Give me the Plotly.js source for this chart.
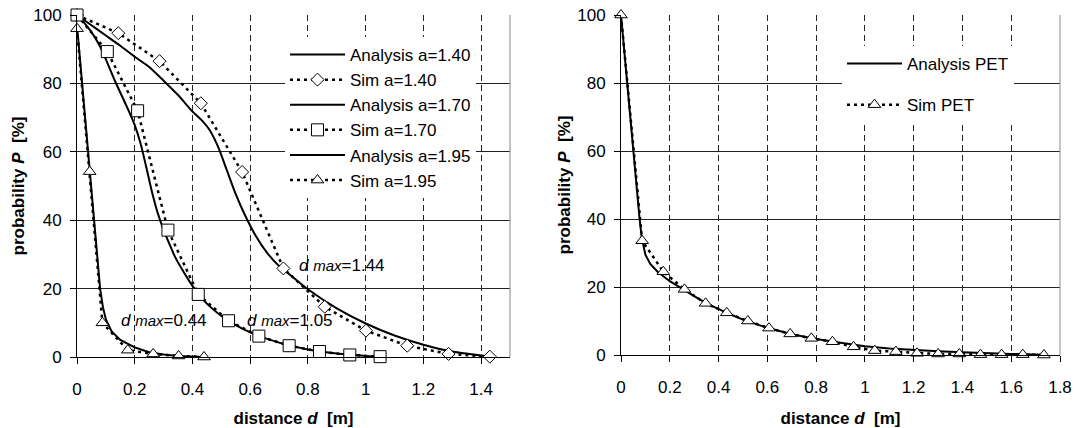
<!DOCTYPE html>
<html>
<head>
<meta charset="utf-8">
<script src="https://cdn.plot.ly/plotly-3.0.1.min.js"></script>
<style>html,body{margin:0;padding:0;background:#fff;}#chart{width:1077px;height:428px;}</style>
</head>
<body>
<div id="chart"></div>
<script>
// ---- Left chart data ----
const anaX140 = [0, 0.05, 0.1, 0.15, 0.2, 0.25, 0.3, 0.35, 0.4, 0.43, 0.46, 0.49, 0.52, 0.55, 0.58, 0.62, 0.66, 0.7, 0.75, 0.8, 0.9, 1.0, 1.1, 1.2, 1.3, 1.44];
const anaY140 = [100, 97, 94, 91, 87.8, 84.8, 80.8, 76.6, 71.8, 69.4, 66.3, 61.2, 54.4, 47.6, 41.8, 35.3, 30.3, 26.6, 23.2, 19.8, 14.2, 9.8, 6.3, 3.6, 1.6, 0];
const simX140 = [0, 0.143, 0.286, 0.429, 0.572, 0.715, 0.858, 1.001, 1.144, 1.287, 1.43];
const simY140 = [100, 94.7, 86.5, 74.2, 54.1, 25.9, 14.7, 7.7, 3.3, 0.9, 0.1];

const anaX170 = [0, 0.02, 0.05, 0.08, 0.1, 0.13, 0.16, 0.18, 0.2, 0.22, 0.24, 0.26, 0.28, 0.3, 0.32, 0.34, 0.37, 0.4, 0.45, 0.5, 0.55, 0.6, 0.7, 0.8, 0.9, 1.0, 1.05];
const anaY170 = [100, 98.2, 95, 90.8, 87, 81, 75.5, 71.8, 67.8, 62.5, 55.5, 48.2, 42, 37.2, 33.1, 29.2, 24.8, 20.8, 15.6, 12, 9.3, 7.2, 4.2, 2.2, 1.0, 0.3, 0];
const simX170 = [0, 0.105, 0.21, 0.315, 0.42, 0.525, 0.63, 0.735, 0.84, 0.945, 1.05];
const simY170 = [100, 89.3, 72.0, 37.1, 18.3, 10.6, 6.1, 3.3, 1.6, 0.6, 0.1];

const anaX195 = [0, 0.02, 0.04, 0.05, 0.06, 0.07, 0.08, 0.09, 0.1, 0.12, 0.15, 0.2, 0.25, 0.3, 0.35, 0.44];
const anaY195 = [97, 78, 60, 50, 40, 30, 20, 14.5, 11, 7.5, 5, 2.8, 1.4, 0.7, 0.3, 0];
const simX195 = [0, 0.044, 0.088, 0.176, 0.264, 0.352, 0.44];
const simY195 = [96, 54.2, 10.0, 2.0, 0.9, 0.3, 0];

// ---- Right chart data ----
const anaXPET = [0, 0.02, 0.04, 0.06, 0.075, 0.085, 0.1, 0.12, 0.15, 0.2, 0.25, 0.3, 0.35, 0.4, 0.45, 0.5, 0.6, 0.7, 0.8, 0.9, 1.0, 1.1, 1.2, 1.3, 1.4, 1.5, 1.6, 1.734];
const anaYPET = [100, 84, 68, 52, 41, 34.5, 29.5, 26.8, 24.5, 21.7, 19.4, 17.3, 15.2, 13.5, 11.9, 10.4, 8.0, 6.1, 4.7, 3.6, 2.6, 1.9, 1.4, 1.1, 0.8, 0.5, 0.3, 0.1];
const simXPET = [0, 0.0867, 0.1734, 0.2601, 0.3468, 0.4335, 0.5202, 0.6069, 0.6936, 0.7803, 0.867, 0.9537, 1.0404, 1.1271, 1.2138, 1.3005, 1.3872, 1.4739, 1.5606, 1.6473, 1.734];
const simYPET = [100, 33.6, 24.5, 19.3, 15.2, 12.4, 10.0, 7.9, 6.2, 4.9, 3.9, 2.4, 1.3, 1.0, 0.5, 0.3, 0.3, 0.1, 0.1, 0.1, 0];

// ---- Ticks and labels ----
const xTicksLeft = [0, 0.2, 0.4, 0.6, 0.8, 1.0, 1.2, 1.4];
const xTickTextLeft = ['0', '0.2', '0.4', '0.6', '0.8', '1', '1.2', '1.4'];
const xTicksRight = [0, 0.2, 0.4, 0.6, 0.8, 1.0, 1.2, 1.4, 1.6, 1.8];
const xTickTextRight = ['0', '0.2', '0.4', '0.6', '0.8', '1', '1.2', '1.4', '1.6', '1.8'];
const yTicks = [0, 20, 40, 60, 80, 100];
const yTickText = ['0', '20', '40', '60', '80', '100'];

const seriesNames = ['Analysis a=1.40', 'Sim a=1.40', 'Analysis a=1.70', 'Sim a=1.70', 'Analysis a=1.95', 'Sim a=1.95'];
const petNames = ['Analysis PET', 'Sim PET'];
const dmaxLabels = ['0.44', '1.05', '1.44'];
const dmaxX = [0.30, 0.737, 0.918];
const dmaxY = [10.8, 10.8, 26.9];

const FONT = 'Liberation Sans, Arial, sans-serif';

function ana(x, y, name, xa, ya, leg, grp, smooth) {
  const line = {color: '#000', width: 2};
  if (smooth) { line.shape = 'spline'; line.smoothing = smooth; }
  return {x: x, y: y, name: name, mode: 'lines', type: 'scatter', xaxis: xa, yaxis: ya,
    line: line, legend: leg, legendgroup: grp, cliponaxis: false, hoverinfo: 'skip'};
}
function sim(x, y, name, sym, size, xa, ya, leg, grp) {
  return {x: x, y: y, name: name, mode: 'lines+markers', type: 'scatter', xaxis: xa, yaxis: ya,
    line: {color: '#000', width: 2.5, dash: '3px,4px'},
    marker: {symbol: sym, size: size, color: '#fff', line: {color: '#000', width: 1}},
    legend: leg, legendgroup: grp, cliponaxis: false, hoverinfo: 'skip'};
}

const traces = [
  ana(anaX140, anaY140, seriesNames[0], 'x', 'y', 'legend', 'g1', 0.6),
  sim(simX140, simY140, seriesNames[1], 'diamond', 10, 'x', 'y', 'legend', 'g2'),
  ana(anaX170, anaY170, seriesNames[2], 'x', 'y', 'legend', 'g3', 0.6),
  sim(simX170, simY170, seriesNames[3], 'square', 12, 'x', 'y', 'legend', 'g4'),
  ana(anaX195, anaY195, seriesNames[4], 'x', 'y', 'legend', 'g5'),
  sim(simX195, simY195, seriesNames[5], 'triangle-up', 11, 'x', 'y', 'legend', 'g6'),
  ana(anaXPET, anaYPET, petNames[0], 'x2', 'y2', 'legend2', 'p1'),
  sim(simXPET, simYPET, petNames[1], 'triangle-up', 11, 'x2', 'y2', 'legend2', 'p2')
];

const tickFont = {family: FONT, size: 17, color: '#000'};
const titleFont = {family: FONT, size: 17, color: '#000', weight: 'bold'};

function xAxis(domain, range, tv, tt, anchor) {
  return {domain: domain, range: range, anchor: anchor, tickvals: tv, ticktext: tt,
    showgrid: true, gridcolor: '#222', gridwidth: 1, griddash: '6px,4px',
    showline: true, linecolor: '#000', linewidth: 1, zeroline: false,
    ticks: 'outside', ticklen: 6, tickcolor: '#000', tickfont: tickFont, ticklabelstandoff: 11,
    title: {text: 'distance <i>d</i>  [m]', font: titleFont, standoff: 15}, fixedrange: true};
}
function yAxis(domain, anchor, standoff) {
  return {domain: domain, range: [0, 100], anchor: anchor, tickvals: yTicks, ticktext: yTickText,
    showgrid: true, gridcolor: '#222', gridwidth: 1,
    showline: true, linecolor: '#000', linewidth: 1, zeroline: false,
    ticks: 'outside', ticklen: 6, tickcolor: '#000', tickfont: tickFont, ticklabelstandoff: 5,
    title: {text: 'probability <i>P</i>  [%]', font: titleFont, standoff: standoff}, fixedrange: true};
}

const W = 1077, L = 77, R = 17, T = 15, B = 71;
const PW = W - L - R, PH = 428 - T - B;

const annotations = dmaxLabels.map((v, i) => ({
  text: '<i>d</i> <span style="font-size:15px"><i>max</i></span>=' + v,
  x: dmaxX[i], y: dmaxY[i], xref: 'x', yref: 'y', showarrow: false,
  font: {family: FONT, size: 17, color: '#000'}
}));

const layout = {
  width: 1077, height: 428,
  margin: {l: L, r: R, t: T, b: B},
  paper_bgcolor: '#fff', plot_bgcolor: '#fff',
  font: {family: FONT, color: '#000'},
  xaxis: xAxis([0, (510 - L) / PW], [0, 1.5], xTicksLeft, xTickTextLeft, 'y'),
  yaxis: yAxis([0, 1], 'x', 4),
  xaxis2: xAxis([(621 - L) / PW, 1], [0, 1.8], xTicksRight, xTickTextRight, 'y2'),
  yaxis2: yAxis([2 / PH, 1], 'x2', 2),
  legend: {x: (285 - L) / PW, y: (357 - 37) / PH, xanchor: 'left', yanchor: 'top',
    bgcolor: '#fff', borderwidth: 0, font: {family: FONT, size: 17, color: '#000'},
    itemwidth: 55, tracegroupgap: 4, traceorder: 'normal'},
  legend2: {x: (842 - L) / PW, y: (357 - 46) / PH, xanchor: 'left', yanchor: 'top',
    bgcolor: '#fff', borderwidth: 0, font: {family: FONT, size: 17, color: '#000'},
    itemwidth: 55, tracegroupgap: 16, traceorder: 'grouped'},
  shapes: [
    {type: 'line', xref: 'x domain', yref: 'y domain', x0: 1, x1: 1, y0: 0, y1: 1, line: {color: '#888', width: 1}},
    {type: 'line', xref: 'x2 domain', yref: 'y2 domain', x0: 1, x1: 1, y0: 0, y1: 1, line: {color: '#888', width: 1}}
  ],
  annotations: annotations,
  showlegend: true
};

Plotly.newPlot('chart', traces, layout, {displayModeBar: false, staticPlot: true});
</script>
</body>
</html>
